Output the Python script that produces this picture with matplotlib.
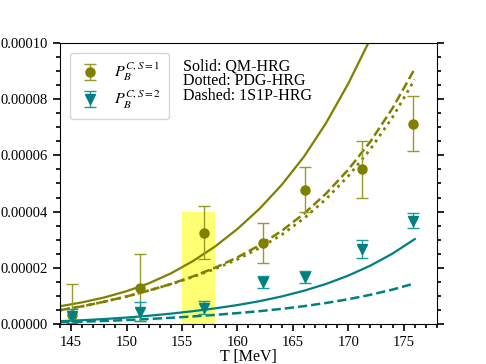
import matplotlib
matplotlib.use("Agg")
import matplotlib.pyplot as plt
from matplotlib.ticker import MultipleLocator, FormatStrFormatter

plt.rcParams['font.family'] = ['Liberation Serif', 'DejaVu Serif']
plt.rcParams['mathtext.fontset'] = 'stix'
plt.rcParams['font.size'] = 10.5

# lattice points
T1 = [145.1, 151.2, 157.0, 162.3, 166.1, 171.2, 175.8]
p1 = [3.3e-6, 12.9e-6, 32.5e-6, 28.9e-6, 47.8e-6, 55.0e-6, 71.2e-6]
e1 = [11.0e-6, 12.0e-6, 9.3e-6, 7.1e-6, 8.0e-6, 10.0e-6, 9.8e-6]

T2 = [145.1, 151.2, 157.0, 162.3, 166.1, 171.2, 175.8]
p2 = [3.0e-6, 4.4e-6, 5.8e-6, 15.0e-6, 16.8e-6, 26.7e-6, 36.8e-6]
e2 = [2.5e-6, 3.5e-6, 2.2e-6, 2.1e-6, 2.2e-6, 3.3e-6, 2.8e-6]

# HRG curves (units of 1e-6)
T_hrg = [144, 146, 148, 150, 152, 154, 156, 158, 160, 162, 164, 166, 168, 170, 172, 174, 176]
qm1 = [6.3, 7.69, 9.44, 11.65, 14.44, 18.0, 22.4, 27.6, 33.8, 41.0, 49.5, 59.5, 71.5, 85.5, 101.5, 120, 142]
pdg1 = [4.9, 6.29, 7.92, 9.77, 11.87, 14.14, 16.76, 19.63, 22.98, 27.04, 31.76, 37.56, 44.45, 52.6, 62.2, 73.6, 87.0]
s1p1 = [4.9, 6.29, 7.92, 9.77, 11.87, 14.21, 16.93, 20.03, 23.69, 28.02, 33.15, 39.21, 46.4, 54.9, 64.9, 76.8, 90.8]
qm2 = [1.0, 1.34, 1.76, 2.28, 2.92, 3.67, 4.55, 5.56, 6.72, 8.11, 9.79, 11.81, 14.25, 17.20, 20.76, 25.05, 30.2]
s1p2 = [0.60, 0.81, 1.07, 1.39, 1.77, 2.20, 2.69, 3.24, 3.86, 4.55, 5.37, 6.33, 7.46, 8.80, 10.38, 12.24, 14.44]

olive = '#808000'
teal = '#008080'

fig = plt.figure(figsize=(4.86, 3.64), dpi=100)
ax = fig.add_axes([0.1235, 0.110, 0.7755, 0.772])

ax.fill_between([155, 158], 0, 4e-5, color='yellow', alpha=0.55, lw=0)

ax.plot(T_hrg, [v * 1e-6 for v in qm1], '-', color=olive, lw=1.6)
ax.plot(T_hrg, [v * 1e-6 for v in pdg1], ':', color=olive, lw=2.0)
ax.plot(T_hrg, [v * 1e-6 for v in s1p1], '--', color=olive, lw=1.8)
ax.plot(T_hrg, [v * 1e-6 for v in qm2], '-', color=teal, lw=1.6)
ax.plot(T_hrg, [v * 1e-6 for v in s1p2], '--', color=teal, lw=1.8)

ax.errorbar(T1, p1, yerr=e1, fmt='o', color=olive, ecolor='#9a9a2a', ms=6.5,
            capsize=4.5, elinewidth=1, capthick=1, label=r'$P_B^{C,S=1}$')
ax.errorbar(T2, p2, yerr=e2, fmt='v', color=teal, ecolor='#1a9a9a', ms=6.5,
            capsize=4.5, elinewidth=1, capthick=1, label=r'$P_B^{C,S=2}$')

ax.text(0.326, 0.945, 'Solid: QM-HRG\nDotted: PDG-HRG\nDashed: 1S1P-HRG',
        transform=ax.transAxes, va='top', ha='left', linespacing=0.9,
        fontsize=11.5)

ax.set_xlim(144, 178)
ax.set_ylim(0, 1e-4)
ax.xaxis.set_major_locator(MultipleLocator(5))
ax.xaxis.set_minor_locator(MultipleLocator(1))
ax.yaxis.set_major_locator(MultipleLocator(2e-5))
ax.yaxis.set_minor_locator(MultipleLocator(5e-6))
ax.yaxis.set_major_formatter(FormatStrFormatter('%.5f'))
ax.tick_params(which='both', direction='out', right=True, top=False)
ax.tick_params(which='major', length=5, width=1.2)
ax.tick_params(which='minor', length=3, width=1.2)
ax.set_xlabel('T [MeV]', labelpad=0, fontsize=11.5)

ax.legend(loc='upper left', handlelength=1.6, handletextpad=0.7, borderpad=0.5,
          labelspacing=0.35, fontsize=11.5, borderaxespad=0.6)

fig.savefig('out.png', dpi=100)
